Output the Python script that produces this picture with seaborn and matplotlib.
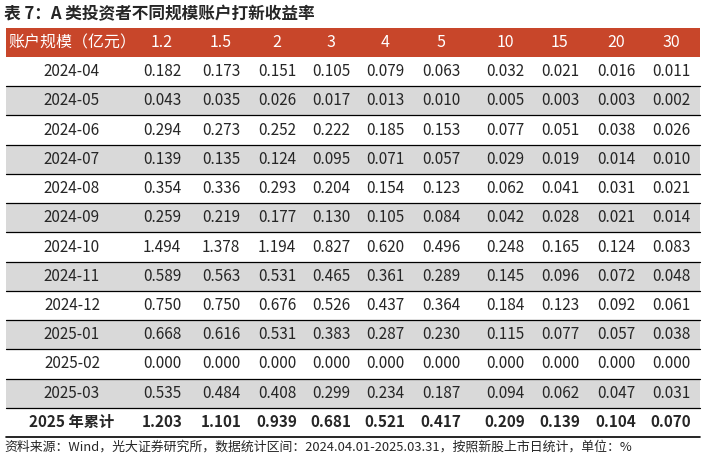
import matplotlib
matplotlib.use("Agg")
import matplotlib.pyplot as plt
import seaborn as sns

sns.set_theme(style="white")
plt.rcParams['font.family'] = ['Noto Sans CJK SC', 'DejaVu Sans']

title = "表 7：A 类投资者不同规模账户打新收益率"
header_label = "账户规模（亿元）"
sizes = ["1.2", "1.5", "2", "3", "4", "5", "10", "15", "20", "30"]
months = ["2024-04", "2024-05", "2024-06", "2024-07", "2024-08", "2024-09",
          "2024-10", "2024-11", "2024-12", "2025-01", "2025-02", "2025-03"]
values = [
    [0.182, 0.173, 0.151, 0.105, 0.079, 0.063, 0.032, 0.021, 0.016, 0.011],
    [0.043, 0.035, 0.026, 0.017, 0.013, 0.010, 0.005, 0.003, 0.003, 0.002],
    [0.294, 0.273, 0.252, 0.222, 0.185, 0.153, 0.077, 0.051, 0.038, 0.026],
    [0.139, 0.135, 0.124, 0.095, 0.071, 0.057, 0.029, 0.019, 0.014, 0.010],
    [0.354, 0.336, 0.293, 0.204, 0.154, 0.123, 0.062, 0.041, 0.031, 0.021],
    [0.259, 0.219, 0.177, 0.130, 0.105, 0.084, 0.042, 0.028, 0.021, 0.014],
    [1.494, 1.378, 1.194, 0.827, 0.620, 0.496, 0.248, 0.165, 0.124, 0.083],
    [0.589, 0.563, 0.531, 0.465, 0.361, 0.289, 0.145, 0.096, 0.072, 0.048],
    [0.750, 0.750, 0.676, 0.526, 0.437, 0.364, 0.184, 0.123, 0.092, 0.061],
    [0.668, 0.616, 0.531, 0.383, 0.287, 0.230, 0.115, 0.077, 0.057, 0.038],
    [0.000, 0.000, 0.000, 0.000, 0.000, 0.000, 0.000, 0.000, 0.000, 0.000],
    [0.535, 0.484, 0.408, 0.299, 0.234, 0.187, 0.094, 0.062, 0.047, 0.031],
]
total_label = "2025 年累计"
totals = [1.203, 1.101, 0.939, 0.681, 0.521, 0.417, 0.209, 0.139, 0.104, 0.070]
source = "资料来源：Wind，光大证券研究所，数据统计区间：2024.04.01-2025.03.31，按照新股上市日统计，单位：%"

fig = plt.figure(figsize=(7.05, 4.59), dpi=100)
ax = fig.add_axes([0, 0, 1, 1])
ax.set_xlim(0, 705)
ax.set_ylim(459, 0)
ax.axis('off')

left, right = 6, 700
col_x = [72, 162, 221, 277, 331, 385, 441, 505, 560, 616, 671]
top_h, bot_h = 28, 57
row_h = (437 - 57) / 13

ax.text(4, 14, title, fontsize=12, fontweight='bold', va='center', ha='left')

ax.fill_between([left, right], top_h, bot_h, color="#C8462A", lw=0)
ax.text(col_x[0], (top_h + bot_h) / 2, header_label, color='white', fontsize=11.5,
        ha='center', va='center')
for x, s in zip(col_x[1:], sizes):
    ax.text(x, (top_h + bot_h) / 2, s, color='white', fontsize=11.5, ha='center', va='center')

rows = [(m, v, False) for m, v in zip(months, values)] + [(total_label, totals, True)]
for i, (lab, vals, bold) in enumerate(rows):
    y0 = bot_h + i * row_h
    yc = y0 + row_h / 2
    if i % 2 == 1 and not bold:
        ax.fill_between([left, right], y0, y0 + row_h, color="#D9D9D9", lw=0)
    ax.plot([left, right], [y0 + row_h, y0 + row_h], color='black', lw=1.2 if bold else 0.9)
    fw = 'bold' if bold else 'normal'
    ax.text(col_x[0], yc, lab, fontsize=11, ha='center', va='center', fontweight=fw)
    for x, v in zip(col_x[1:], vals):
        ax.text(x, yc, f"{v:.3f}", fontsize=11, ha='center', va='center', fontweight=fw)

ax.text(4, 447, source, fontsize=9.3, ha='left', va='center')

fig.savefig("out.png", dpi=100)
